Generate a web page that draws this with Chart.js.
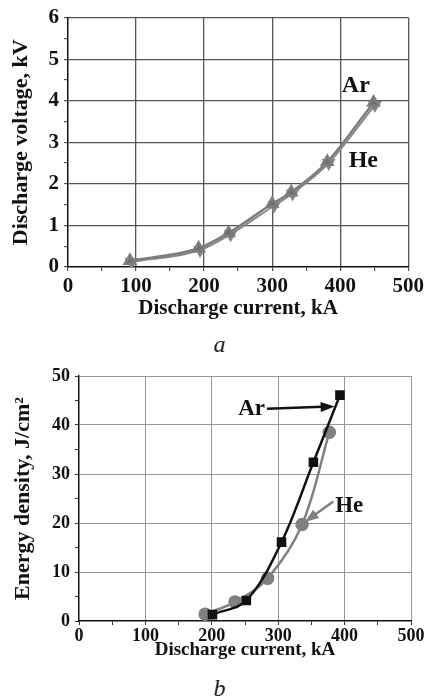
<!DOCTYPE html>
<html>
<head>
<meta charset="utf-8">
<script src="https://cdn.jsdelivr.net/npm/chart.js@4.4.1/dist/chart.umd.min.js"></script>
<style>
  body { margin: 0; background: #fff; width: 427px; height: 700px; position: relative; overflow: hidden; }
  .box { position: absolute; left: 0; width: 427px; }
  .cap { position: absolute; width: 427px; text-align: center; left: 6px;
         font: italic 24px "Liberation Serif", "DejaVu Serif", serif; color: #222; }
</style>
</head>
<body>
<div class="box" style="top:0;height:325px"><canvas id="chartA" width="427" height="325"></canvas></div>
<div class="cap" style="top:331px">a</div>
<div class="box" style="top:360px;height:305px"><canvas id="chartB" width="427" height="305"></canvas></div>
<div class="cap" style="top:675px">b</div>
<script>
// (a) discharge voltage vs current
const voltArX = [91, 192, 236, 300, 328, 381, 449];
const voltArY = [0.15, 0.45, 0.82, 1.52, 1.80, 2.53, 3.96];
const voltHeX = [93, 194, 239, 303, 330, 383, 451];
const voltHeY = [0.12, 0.41, 0.79, 1.48, 1.77, 2.50, 3.90];

// (b) energy density vs current
const enArX = [201, 252, 305, 353, 393];
const enArY = [1.3, 4.2, 16.1, 32.4, 46.1];
const enHeX = [190, 235, 284, 336, 377];
const enHeY = [1.4, 3.9, 8.7, 19.7, 38.5];

const currentTicks = [0, 100, 200, 300, 400, 500];

const pts = (xs, ys) => xs.map((x, i) => ({ x: x, y: ys[i] }));
const serif = '"Liberation Serif", "DejaVu Serif", serif';

// text labels and arrows placed in data units
const notes = {
  id: 'notes',
  afterDatasetsDraw(chart, args, opts) {
    const ctx = chart.ctx, xs = chart.scales.x, ys = chart.scales.y;
    ctx.save();
    (opts.items || []).forEach(it => {
      ctx.font = 'bold ' + it.size + 'px ' + serif;
      ctx.fillStyle = '#111';
      ctx.textAlign = 'center';
      ctx.textBaseline = 'middle';
      ctx.fillText(it.text, xs.getPixelForValue(it.x), ys.getPixelForValue(it.y));
      if (it.arrow) {
        const a = it.arrow;
        const x1 = xs.getPixelForValue(a[0]), y1 = ys.getPixelForValue(a[1]);
        const x2 = xs.getPixelForValue(a[2]), y2 = ys.getPixelForValue(a[3]);
        const ang = Math.atan2(y2 - y1, x2 - x1);
        ctx.strokeStyle = it.color; ctx.fillStyle = it.color; ctx.lineWidth = 2.5;
        ctx.beginPath(); ctx.moveTo(x1, y1);
        ctx.lineTo(x2 - 12 * Math.cos(ang), y2 - 12 * Math.sin(ang)); ctx.stroke();
        ctx.beginPath(); ctx.moveTo(x2, y2);
        ctx.lineTo(x2 - 14 * Math.cos(ang) + 5 * Math.sin(ang), y2 - 14 * Math.sin(ang) - 5 * Math.cos(ang));
        ctx.lineTo(x2 - 14 * Math.cos(ang) - 5 * Math.sin(ang), y2 - 14 * Math.sin(ang) + 5 * Math.cos(ang));
        ctx.closePath(); ctx.fill();
      }
    });
    ctx.restore();
  }
};

function makeScales(cfg) {
  return {
    x: {
      type: 'linear', min: 0, max: 500,
      afterFit: s => { s.height = cfg.xHeight; },
      afterBuildTicks: s => { s.ticks = []; for (let v = 0; v <= 500; v += 50) s.ticks.push({ value: v }); },
      border: { color: '#111', width: 1.5 },
      grid: {
        color: c => (c.tick && c.tick.value % 100 === 0 && c.tick.value > 0) ? cfg.grid : 'rgba(0,0,0,0)',
        lineWidth: cfg.gridWidth, tickLength: 4, tickColor: '#333', tickWidth: 1
      },
      ticks: {
        color: '#111', padding: cfg.tickPad, maxRotation: 0, autoSkip: false,
        font: { family: serif, size: cfg.tickSize, weight: 'bold' },
        callback: v => currentTicks.includes(v) ? v : ''
      },
      title: {
        display: true, text: 'Discharge current, kA', color: '#111',
        padding: { top: cfg.titlePad, bottom: 0 },
        font: { family: serif, size: cfg.titleSize, weight: 'bold' }
      }
    },
    y: {
      min: 0, max: cfg.yMax,
      afterFit: s => { s.width = cfg.yWidth; },
      afterBuildTicks: s => { s.ticks = []; for (let v = 0; v <= cfg.yMax + 1e-9; v += cfg.yStep / 2) s.ticks.push({ value: +v.toFixed(3) }); },
      border: { color: '#111', width: 1.5 },
      grid: {
        color: c => (c.tick && Math.abs(c.tick.value % cfg.yStep) < 1e-6 && c.tick.value > 0) ? cfg.grid : 'rgba(0,0,0,0)',
        lineWidth: cfg.gridWidth, tickLength: 4, tickColor: '#333', tickWidth: 1
      },
      ticks: {
        color: '#111', padding: 5, autoSkip: false,
        font: { family: serif, size: cfg.tickSize, weight: 'bold' },
        callback: v => Math.abs(v % cfg.yStep) < 1e-6 ? v : ''
      },
      title: {
        display: true, text: cfg.yTitle, color: '#111', padding: { top: 0, bottom: 0 },
        font: { family: serif, size: cfg.yTitleSize, weight: 'bold' }
      }
    }
  };
}

new Chart(document.getElementById('chartA'), {
  type: 'line',
  data: {
    datasets: [
      { label: 'Ar', data: pts(voltArX, voltArY), borderColor: '#7d7d7d', backgroundColor: '#6e6e6e',
        borderWidth: 2.5, pointStyle: 'triangle', pointRadius: 6, cubicInterpolationMode: 'monotone' },
      { label: 'He', data: pts(voltHeX, voltHeY), borderColor: '#888', backgroundColor: '#7a7a7a',
        borderWidth: 2, pointStyle: 'triangle', pointRotation: 180, pointRadius: 6, cubicInterpolationMode: 'monotone' }
    ]
  },
  options: {
    responsive: false, animation: false,
    layout: { padding: { top: 14, right: 16, left: 8, bottom: 4 } },
    plugins: {
      legend: { display: false }, tooltip: { enabled: false },
      notes: { items: [
        { text: 'Ar', x: 423, y: 4.35, size: 24 },
        { text: 'He', x: 434, y: 2.55, size: 24 }
      ] }
    },
    scales: makeScales({ yMax: 6, yStep: 1, yTitle: 'Discharge voltage, kV', grid: '#555', gridWidth: 1.3,
      tickSize: 21, titleSize: 21, yTitleSize: 22, yWidth: 60, xHeight: 54, tickPad: 3, titlePad: 2 })
  },
  plugins: [notes]
});

new Chart(document.getElementById('chartB'), {
  type: 'line',
  data: {
    datasets: [
      { label: 'Ar', data: pts(enArX, enArY), borderColor: '#111', backgroundColor: '#111',
        borderWidth: 2.5, pointStyle: 'rect', pointRadius: 5, tension: 0.35 },
      { label: 'He', data: pts(enHeX, enHeY), borderColor: '#808080', backgroundColor: '#808080',
        borderWidth: 2.5, pointStyle: 'circle', pointRadius: 5.5, tension: 0.35 }
    ]
  },
  options: {
    responsive: false, animation: false,
    layout: { padding: { top: 16, right: 16, left: 10, bottom: 4 } },
    plugins: {
      legend: { display: false }, tooltip: { enabled: false },
      notes: { items: [
        { text: 'Ar', x: 260, y: 43.3, size: 23, arrow: [283, 43.3, 385, 43.8], color: '#111' },
        { text: 'He', x: 407, y: 23.4, size: 23, arrow: [383, 24.4, 340, 20.2], color: '#808080' }
      ] }
    },
    scales: makeScales({ yMax: 50, yStep: 10, yTitle: 'Energy density, J/cm²', grid: '#999', gridWidth: 1,
      tickSize: 18, titleSize: 19, yTitleSize: 22, yWidth: 69, xHeight: 40, tickPad: 1, titlePad: 0 })
  },
  plugins: [notes]
});
</script>
</body>
</html>
